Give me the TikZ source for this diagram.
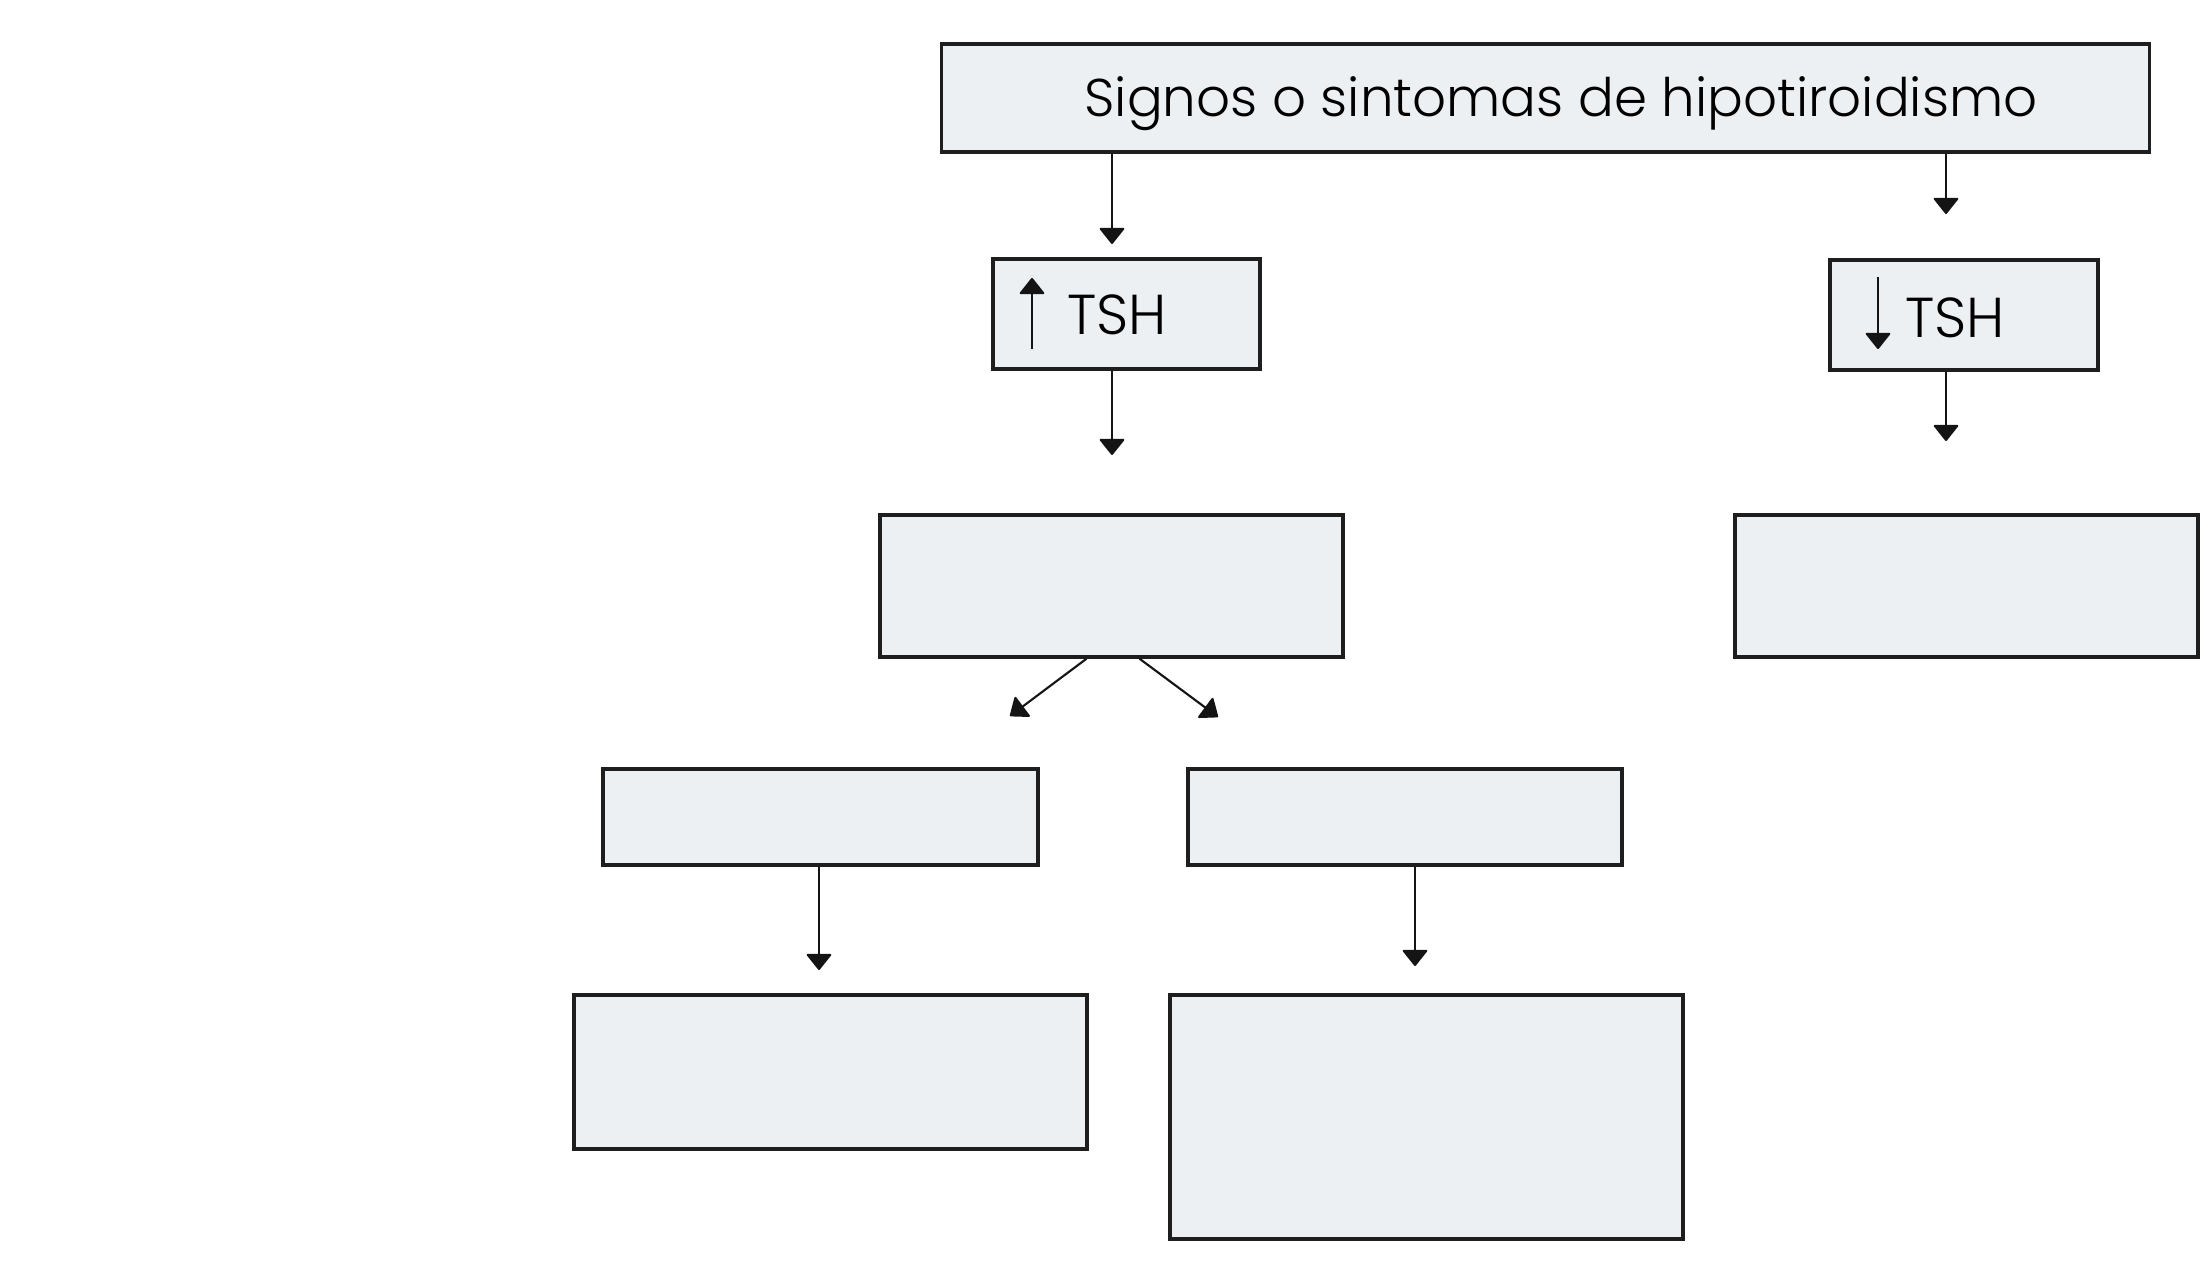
\documentclass[tikz,border=0pt]{standalone}
\usepackage{fontspec}
\IfFontExistsTF{Poppins Light}{\setmainfont{Poppins Light}}{\setmainfont{Poppins}}
\usepackage{xcolor}
\usepackage{tikz}
\usetikzlibrary{arrows.meta, positioning, calc}
\definecolor{boxfill}{RGB}{236,240,243}
\definecolor{boxline}{RGB}{30,30,30}
\definecolor{arrowcol}{RGB}{20,20,20}

\begin{document}
\begin{tikzpicture}[
    x=0.01cm, y=-0.01cm,
    >={Triangle[width=7.5pt, length=4.8pt, round]},
    box/.style={draw=boxline, fill=boxfill, line width=0.95pt, inner sep=0pt},
    lbl/.style={font=\fontsize{15.1pt}{18pt}\selectfont, text=black, inner sep=0pt},
    tshlbl/.style={lbl, font=\fontsize{16pt}{19pt}\selectfont},
    arr/.style={->, draw=arrowcol, line width=0.6pt},
]
    \useasboundingbox (0,0) rectangle (2208,1271);
    % boxes
    \node[box, minimum width=12.07cm, minimum height=1.08cm] (top) at (1545.5,98) {};
    \node[box, minimum width=2.67cm, minimum height=1.10cm] (tshup) at (1126.5,314) {};
    \node[box, minimum width=2.68cm, minimum height=1.10cm] (tshdown) at (1964,315) {};
    \node[box, minimum width=4.63cm, minimum height=1.42cm] (high) at (1111.5,586) {};
    \node[box, minimum width=4.63cm, minimum height=1.42cm] (low) at (1966.5,586) {};
    \node[box, minimum width=4.35cm, minimum height=0.96cm] (highA) at (820.5,817) {};
    \node[box, minimum width=4.34cm, minimum height=0.96cm] (highB) at (1405,817) {};
    \node[box, minimum width=5.13cm, minimum height=1.54cm] (highAres) at (830.5,1072) {};
    \node[box, minimum width=5.13cm, minimum height=2.44cm] (highBres) at (1426.5,1117) {};
    % texts
    \node[lbl] (title) at (1561,104) {Signos o sintomas de hipotiroidismo};
    \node[tshlbl] (tshuptxt) at (1117,315) {TSH};
    \node[tshlbl] (tshdowntxt) at (1955,318) {TSH};
    % arrows in the TSH boxes
    \coordinate (upS) at (1032,349);
    \coordinate (upE) at (1032,278);
    \coordinate (downS) at (1878,277);
    \coordinate (downE) at (1878,349);
    \draw[arr] (upS) -- (upE);
    \draw[arr] (downS) -- (downE);
    % connectors
    \coordinate (e1) at (1112,244);
    \coordinate (e2) at (1946,214);
    \coordinate (e3) at (1112,455);
    \coordinate (e4) at (1946,441);
    \coordinate (e5) at (1010,716);
    \coordinate (e6) at (1218,717);
    \coordinate (e7) at (819,970);
    \coordinate (e8) at (1415,966);
    \draw[arr] (top.south -| e1) -- (e1);
    \draw[arr] (top.south -| e2) -- (e2);
    \draw[arr] (tshup.south -| e3) -- (e3);
    \draw[arr] (tshdown.south -| e4) -- (e4);
    \draw[arr] ($(high.south)+(-25,0)$) -- (e5);
    \draw[arr] ($(high.south)+(28,0)$) -- (e6);
    \draw[arr] (highA.south -| e7) -- (e7);
    \draw[arr] (highB.south -| e8) -- (e8);
\end{tikzpicture}
\end{document}
